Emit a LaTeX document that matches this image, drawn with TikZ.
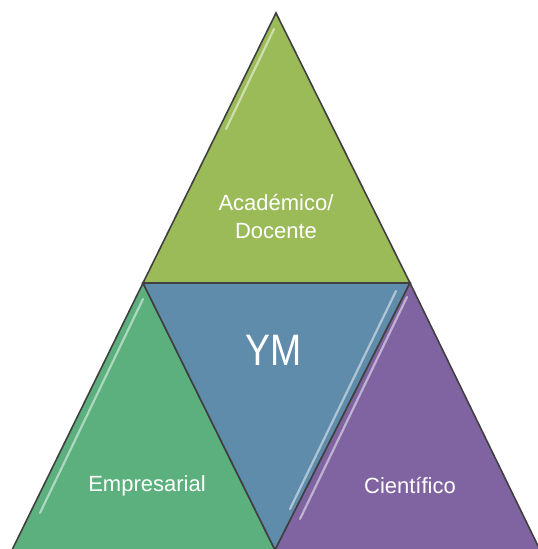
\documentclass[tikz,border=0pt]{standalone}
\usepackage{fontspec}
\setmainfont{Liberation Sans}
\definecolor{cTop}{HTML}{9BBB59}
\definecolor{cMid}{HTML}{5F8CAB}
\definecolor{cLeft}{HTML}{5BB07D}
\definecolor{cRight}{HTML}{8064A2}
\definecolor{cEdge}{HTML}{404040}
\begin{document}
\begin{tikzpicture}[x=1pt,y=1pt,
  tri/.style={draw=cEdge,line width=1.6pt,line join=miter},
  gloss/.style={white,opacity=0.5,line width=2.2pt,line cap=round},
  lbl/.style={text=white,font=\fontsize{22}{28}\selectfont,align=center,inner sep=0pt}]
\useasboundingbox (0,0) rectangle (538,549);
\clip (0,0) rectangle (538,549);
\coordinate (tA) at (276,536);
\coordinate (tL) at (143,266);
\coordinate (tR) at (410,266);
\coordinate (bM) at (275,-1);
\coordinate (lB) at (12,-1);
\coordinate (rB) at (540,-1);
\draw[tri,fill=cTop] (tA) -- (tR) -- (tL) -- cycle;
\draw[gloss] (274,520) -- (226,420);
\draw[tri,fill=cLeft] (tL) -- (bM) -- (lB) -- cycle;
\draw[gloss] (143,250) -- (40,36);
\draw[tri,fill=cMid] (tL) -- (tR) -- (bM) -- cycle;
\draw[gloss] (396,258) -- (290,40);
\draw[tri,fill=cRight] (tR) -- (rB) -- (bM) -- cycle;
\draw[gloss] (407,252) -- (300,30);
\node[lbl] (acad) at (276,332) {Académico/\\Docente};
\node[text=white,font=\fontsize{44}{44}\selectfont,inner sep=0pt] (ym) at (274,199) {\scalebox{0.85}[1]{YM}};
\node[lbl] (emp) at (147,63) {Empresarial};
\node[lbl] (cien) at (410,63) {Científico};
\end{tikzpicture}
\end{document}
